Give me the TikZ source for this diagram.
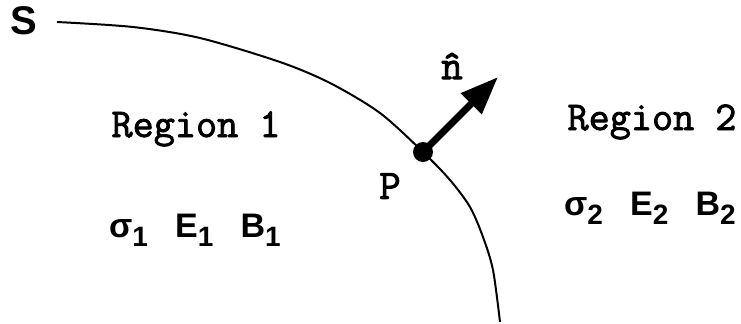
\documentclass[tikz,border=0pt]{standalone}
\usepackage{fontspec}
\setmainfont{Liberation Sans}
\newfontfamily\monofam[FakeBold=2]{Latin Modern Mono}
\usetikzlibrary{arrows.meta,positioning}
\definecolor{ink}{HTML}{000000}
\newcommand{\lowsub}[1]{\raisebox{-.55ex}{\fontsize{14}{14}\selectfont #1}}
\tikzset{
  rgn/.style={font=\monofam\fontsize{20.5}{22}\selectfont,text=ink,inner sep=0pt},
  ptl/.style={font=\monofam\fontsize{21}{24}\selectfont,text=ink,inner sep=0pt},
  qty/.style={font=\bfseries\fontsize{17}{20}\selectfont,text=ink,inner sep=0pt},
  bdry/.style={draw=ink,line width=1pt},
  ar/.style={-{Triangle[length=19pt,width=14pt]},draw=ink,line width=3.5pt},
  nd/.style={circle,fill=ink,minimum size=10pt,inner sep=0pt},
}
\begin{document}
\begin{tikzpicture}[x=0.5pt,y=-0.5pt]
  \useasboundingbox (0,0) rectangle (741,323);
  \node[qty,font=\bfseries\fontsize{20}{22}\selectfont] (s) at (24,21) {S};
  \coordinate (s0) at (57,22);
  \node[nd] (p) at (423,152) {};
  \coordinate (tip) at (498,77);
  % boundary S
  \draw[bdry] plot[smooth,tension=.5] coordinates {(s0) (133,27) (200,38) (280,62) (330,83) (380,113)
    (p.center) (450,180) (470,207) (483,237) (493,270) (500,322)};
  \draw[ar] (p.center) -- (tip);
  \node[ptl] (nhat) at (452,66) {\^{n}};
  \node[ptl] (plbl) at (390,186) {P};
  \node[rgn,anchor=base] (r1) at (196,137) {Region 1};
  \node[rgn,anchor=base] (r2) at (652,130) {Region 2};
  \node[qty,anchor=base] (q1) at (195,237) {σ\lowsub{1}\hspace{.8em}E\lowsub{1}\hspace{.8em}B\lowsub{1}};
  \node[qty,anchor=base] (q2) at (650,215) {σ\lowsub{2}\hspace{.8em}E\lowsub{2}\hspace{.8em}B\lowsub{2}};
\end{tikzpicture}
\end{document}
